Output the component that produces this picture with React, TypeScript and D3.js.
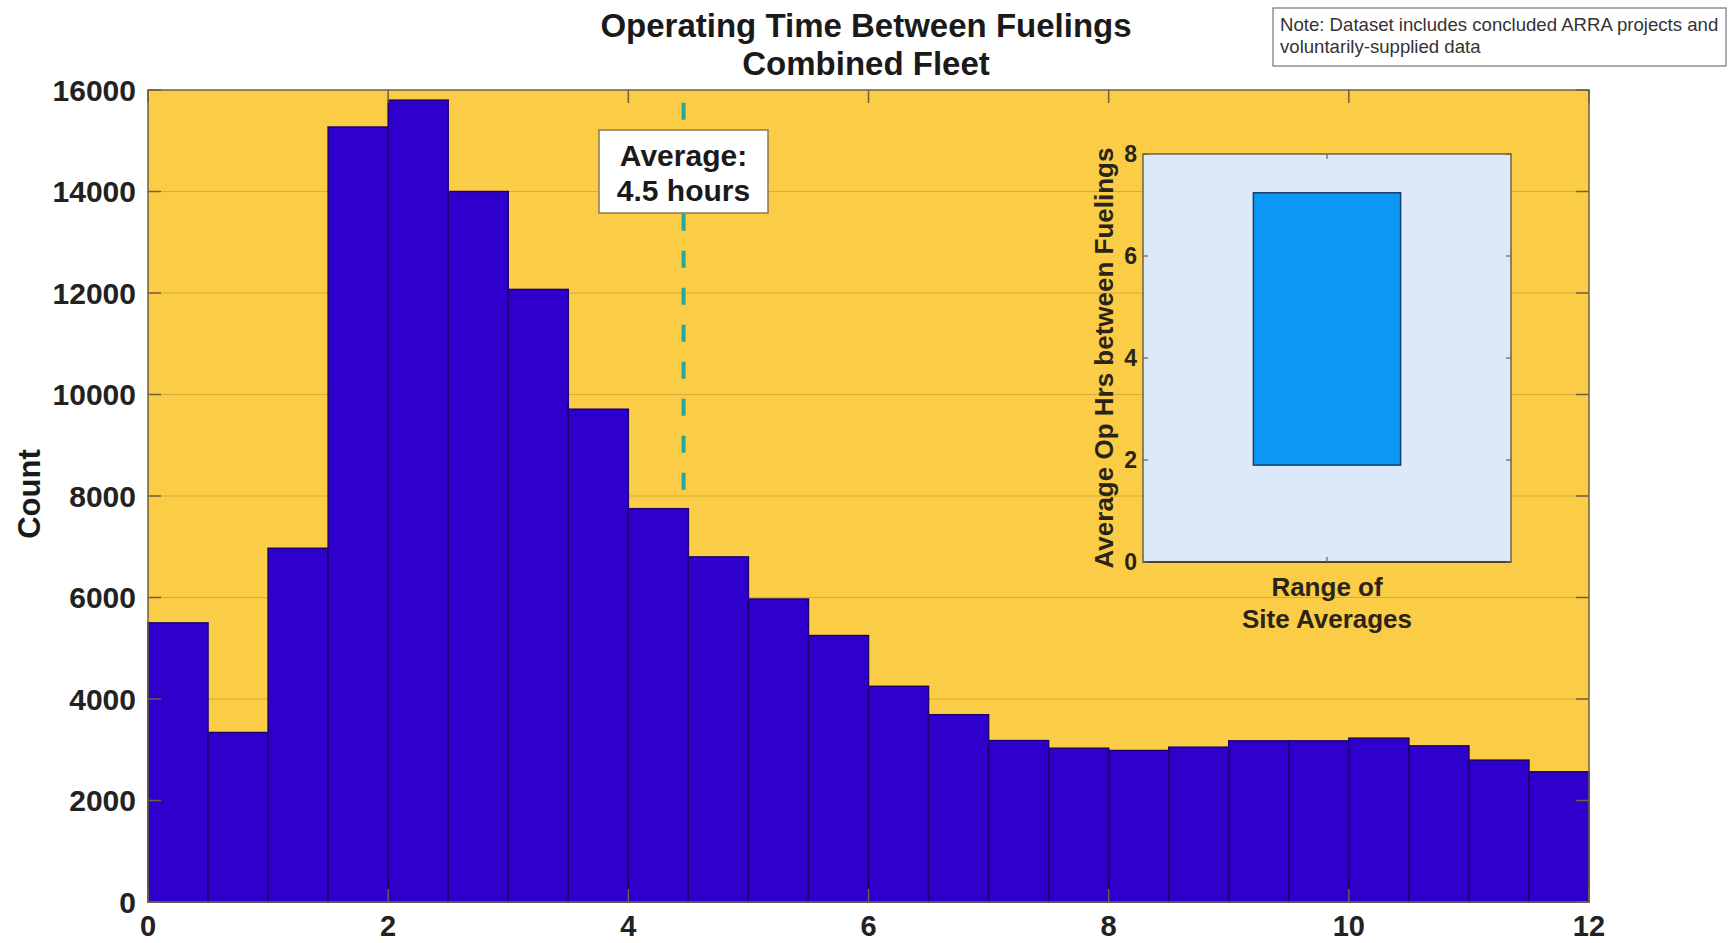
import * as d3 from "d3";

const W = 1733;
const H = 943;

// histogram: operating hours between fuelings, 0.5 h bins
const binEdges = [0, 0.5, 1, 1.5, 2, 2.5, 3, 3.5, 4, 4.5, 5, 5.5, 6, 6.5, 7, 7.5, 8, 8.5, 9, 9.5, 10, 10.5, 11, 11.5, 12];
const counts = [
  5500, 3340, 6970, 15270, 15800, 14000, 12070, 9710, 7750, 6800, 5970, 5250,
  4250, 3690, 3180, 3030, 2985, 3050, 3175, 3175, 3228, 3077, 2795, 2565,
];
const xTicks = [0, 2, 4, 6, 8, 10, 12];
const yTicks = [0, 2000, 4000, 6000, 8000, 10000, 12000, 14000, 16000];

const averageHours = 4.46;
const averageLineRange = [7950, 15750];
const averageLabel = ["Average:", "4.5 hours"];

// inset: range of site averages
const insetCategories = ["Range of Site Averages"];
const insetLow = [1.9];
const insetHigh = [7.24];
const insetTicks = [0, 2, 4, 6, 8];

const titleLines = ["Operating Time Between Fuelings", "Combined Fleet"];
const noteLines = ["Note: Dataset includes concluded ARRA projects and", "voluntarily-supplied data"];

const font = "'Liberation Sans', Arial, Helvetica, sans-serif";

export default function App() {
  const m = { left: 148, right: 1589, top: 90, bottom: 902 };
  const x = d3.scaleLinear().domain([0, 12]).range([m.left, m.right]);
  const y = d3.scaleLinear().domain([0, 16000]).range([m.bottom, m.top]);

  const ins = { left: 1143, right: 1511, top: 154, bottom: 562 };
  const ix = d3.scaleBand().domain(insetCategories).range([ins.left, ins.right]).paddingInner(0).paddingOuter(0.75);
  const iy = d3.scaleLinear().domain([0, 8]).range([ins.bottom, ins.top]);

  const axisColor = "#6e6244";
  const tickLen = 13;
  const avgX = x(averageHours);
  const labelBox = { x: 599, y: 130, w: 169, h: 83 };

  return (
    <svg
      width={W}
      height={H}
      viewBox={`0 0 ${W} ${H}`}
      style={{ position: "absolute", left: 0, top: 0, background: "#fff", fontFamily: font }}
    >
      {/* title */}
      {titleLines.map((t, i) => (
        <text key={t} x={866} y={37 + i * 38} textAnchor="middle" fontSize={33} fontWeight="bold" fill="#1a1a1a">
          {t}
        </text>
      ))}

      {/* note box */}
      <rect x={1273} y={8} width={453} height={58} fill="#fff" stroke="#777" strokeWidth={1.2} />
      {noteLines.map((t, i) => (
        <text key={t} x={1280} y={31 + i * 22} fontSize={18.6} fill="#333">
          {t}
        </text>
      ))}

      {/* plot background */}
      <rect x={m.left} y={m.top} width={m.right - m.left} height={m.bottom - m.top} fill="#fbcc45" />
      {yTicks.slice(1, -1).map((t) => (
        <line key={t} x1={m.left} x2={m.right} y1={y(t)} y2={y(t)} stroke="#d9ab38" strokeWidth={1} />
      ))}

      {/* bars */}
      {counts.map((c, i) => (
        <rect
          key={i}
          x={x(binEdges[i])}
          y={y(c)}
          width={x(binEdges[i + 1]) - x(binEdges[i])}
          height={y(0) - y(c)}
          fill="#2f00cc"
          stroke="#1c0070"
          strokeWidth={1.5}
        />
      ))}

      {/* axes box & ticks */}
      <rect x={m.left} y={m.top} width={m.right - m.left} height={m.bottom - m.top} fill="none" stroke={axisColor} strokeWidth={1.5} />
      {yTicks.map((t) => (
        <g key={t}>
          <line x1={m.left} x2={m.left + tickLen} y1={y(t)} y2={y(t)} stroke={axisColor} strokeWidth={1.5} />
          <line x1={m.right - tickLen} x2={m.right} y1={y(t)} y2={y(t)} stroke={axisColor} strokeWidth={1.5} />
          <text x={136} y={y(t)} dy="0.36em" textAnchor="end" fontSize={30} fontWeight="bold" fill="#222">
            {t}
          </text>
        </g>
      ))}
      {xTicks.map((t) => (
        <g key={t}>
          <line x1={x(t)} x2={x(t)} y1={m.top} y2={m.top + tickLen} stroke={axisColor} strokeWidth={1.5} />
          <line x1={x(t)} x2={x(t)} y1={m.bottom - tickLen} y2={m.bottom} stroke={axisColor} strokeWidth={1.5} />
          <text x={x(t)} y={936} textAnchor="middle" fontSize={29} fontWeight="bold" fill="#222">
            {t}
          </text>
        </g>
      ))}
      <text
        transform={`translate(40, ${(m.top + m.bottom) / 2 - 2}) rotate(-90)`}
        textAnchor="middle"
        fontSize={31}
        fontWeight="bold"
        fill="#1a1a1a"
      >
        Count
      </text>

      {/* average line */}
      <line
        x1={avgX}
        x2={avgX}
        y1={y(averageLineRange[1])}
        y2={y(averageLineRange[0])}
        stroke="#2aa59a"
        strokeWidth={4}
        strokeDasharray="17 20"
      />
      <rect x={labelBox.x} y={labelBox.y} width={labelBox.w} height={labelBox.h} fill="#fff" stroke="#8a7a55" strokeWidth={1.5} />
      {averageLabel.map((t, i) => (
        <text
          key={t}
          x={labelBox.x + labelBox.w / 2}
          y={166 + i * 35}
          textAnchor="middle"
          fontSize={30}
          fontWeight="bold"
          fill="#1a1a1a"
        >
          {t}
        </text>
      ))}

      {/* inset */}
      <rect x={ins.left} y={ins.top} width={ins.right - ins.left} height={ins.bottom - ins.top} fill="#dde9f8" />
      {insetCategories.map((c, i) => (
        <rect
          key={c}
          x={ix(c)}
          y={iy(insetHigh[i])}
          width={ix.bandwidth()}
          height={iy(insetLow[i]) - iy(insetHigh[i])}
          fill="#0a97f5"
          stroke="#1b3f66"
          strokeWidth={1.5}
        />
      ))}
      <rect x={ins.left} y={ins.top} width={ins.right - ins.left} height={ins.bottom - ins.top} fill="none" stroke={axisColor} strokeWidth={1.5} />
      <line x1={ins.left} x2={ins.right} y1={ins.bottom} y2={ins.bottom} stroke="#4a4030" strokeWidth={2} />
      {insetTicks.map((t) => (
        <g key={t}>
          <line x1={ins.left} x2={ins.left + 5} y1={iy(t)} y2={iy(t)} stroke={axisColor} strokeWidth={1.2} />
          <line x1={ins.right - 5} x2={ins.right} y1={iy(t)} y2={iy(t)} stroke={axisColor} strokeWidth={1.2} />
          <text x={ins.left - 6} y={iy(t)} dy="0.36em" textAnchor="end" fontSize={23} fontWeight="bold" fill="#2a2418">
            {t}
          </text>
        </g>
      ))}
      {insetCategories.map((c) => {
        const cx = (ix(c) ?? 0) + ix.bandwidth() / 2;
        return (
          <g key={c}>
            <line x1={cx} x2={cx} y1={ins.top} y2={ins.top + 5} stroke={axisColor} strokeWidth={1.2} />
            <line x1={cx} x2={cx} y1={ins.bottom - 5} y2={ins.bottom} stroke={axisColor} strokeWidth={1.2} />
            <text x={cx} y={596} textAnchor="middle" fontSize={26} fontWeight="bold" fill="#2a2418">
              Range of
            </text>
            <text x={cx} y={628} textAnchor="middle" fontSize={26} fontWeight="bold" fill="#2a2418">
              Site Averages
            </text>
          </g>
        );
      })}
      <text
        transform={`translate(1113, ${(ins.top + ins.bottom) / 2}) rotate(-90)`}
        textAnchor="middle"
        fontSize={26}
        fontWeight="bold"
        fill="#2a2418"
      >
        Average Op Hrs between Fuelings
      </text>
    </svg>
  );
}
